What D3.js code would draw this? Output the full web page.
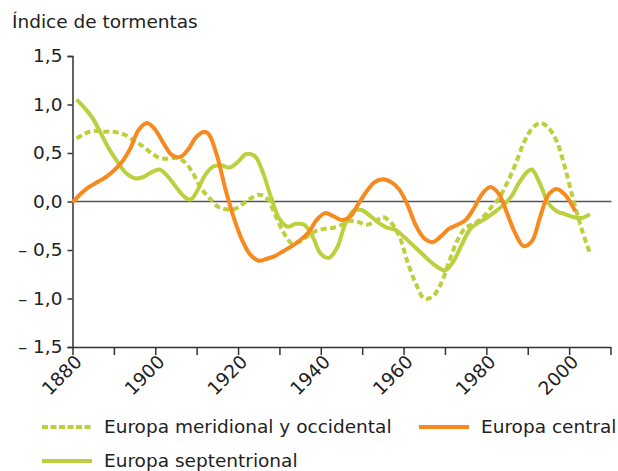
<!DOCTYPE html>
<html>
<head>
<meta charset="utf-8">
<script src="https://cdn.jsdelivr.net/npm/d3@7"></script>
<style>
    body { margin: 0; background: #fff; }
    text { font-family: 'DejaVu Sans', Verdana, sans-serif; fill: #222; }
</style>
</head>
<body>
<div id="chart-holder"></div>
<script>
// data
var seriesNames = ['Europa meridional y occidental', 'Europa central', 'Europa septentrional'];

var southYears = [1881, 1883, 1885, 1887, 1889, 1891, 1893, 1895, 1897, 1899, 1901, 1903, 1905, 1907, 1909, 1911, 1913, 1915, 1917, 1919, 1921, 1923, 1925, 1927, 1929, 1931, 1933, 1935, 1937, 1939, 1941, 1943, 1945, 1947, 1949, 1951, 1953, 1955, 1957, 1959, 1961, 1963, 1965, 1967, 1969, 1971, 1973, 1975, 1977, 1979, 1981, 1983, 1985, 1987, 1989, 1991, 1993, 1995, 1997, 1999, 2001, 2003, 2005];
var southValues = [0.65, 0.70, 0.73, 0.72, 0.72, 0.71, 0.68, 0.62, 0.57, 0.50, 0.45, 0.44, 0.45, 0.41, 0.30, 0.14, 0.04, -0.05, -0.08, -0.08, -0.03, 0.03, 0.07, 0.03, -0.14, -0.32, -0.43, -0.41, -0.35, -0.30, -0.28, -0.27, -0.24, -0.20, -0.21, -0.24, -0.21, -0.16, -0.22, -0.36, -0.63, -0.85, -1.00, -0.98, -0.85, -0.62, -0.40, -0.27, -0.23, -0.17, -0.07, 0.03, 0.19, 0.38, 0.60, 0.75, 0.81, 0.76, 0.62, 0.35, 0.02, -0.28, -0.53];

var centralYears = [1880, 1882, 1884, 1886, 1888, 1890, 1892, 1894, 1896, 1898, 1900, 1902, 1904, 1906, 1908, 1910, 1912, 1913, 1915, 1917, 1919, 1921, 1923, 1925, 1927, 1929, 1931, 1933, 1935, 1937, 1939, 1941, 1943, 1945, 1947, 1949, 1951, 1953, 1955, 1957, 1959, 1961, 1963, 1965, 1967, 1969, 1971, 1973, 1975, 1977, 1979, 1981, 1983, 1985, 1987, 1989, 1991, 1993, 1995, 1997, 1999, 2001.5];
var centralValues = [-0.01, 0.08, 0.15, 0.20, 0.25, 0.32, 0.41, 0.55, 0.74, 0.81, 0.74, 0.60, 0.48, 0.46, 0.54, 0.67, 0.72, 0.69, 0.46, 0.12, -0.17, -0.40, -0.55, -0.61, -0.59, -0.56, -0.51, -0.46, -0.40, -0.32, -0.19, -0.12, -0.15, -0.19, -0.16, -0.03, 0.10, 0.20, 0.23, 0.20, 0.12, -0.04, -0.25, -0.38, -0.42, -0.36, -0.28, -0.24, -0.19, -0.07, 0.08, 0.15, 0.08, -0.12, -0.33, -0.46, -0.41, -0.16, 0.07, 0.13, 0.07, -0.10];

var northYears = [1881, 1883, 1885, 1887, 1889, 1891, 1893, 1895, 1897, 1899, 1901, 1903, 1905, 1907, 1908.5, 1910, 1912, 1914, 1916, 1918, 1920, 1922, 1924, 1926, 1928, 1930, 1932, 1934, 1936, 1938, 1940, 1942, 1944, 1946, 1948, 1950, 1952, 1954, 1956, 1958, 1960, 1962, 1964, 1966, 1968, 1970, 1972, 1974, 1976, 1978, 1980, 1982, 1984, 1986, 1988, 1990, 1991, 1993, 1995, 1997, 1999, 2001, 2003, 2005];
var northValues = [1.05, 0.96, 0.85, 0.69, 0.53, 0.40, 0.29, 0.24, 0.25, 0.30, 0.33, 0.26, 0.15, 0.05, 0.02, 0.10, 0.27, 0.36, 0.37, 0.35, 0.41, 0.49, 0.47, 0.30, 0.04, -0.18, -0.26, -0.23, -0.24, -0.36, -0.54, -0.58, -0.47, -0.22, -0.09, -0.09, -0.15, -0.22, -0.27, -0.29, -0.36, -0.44, -0.52, -0.60, -0.67, -0.71, -0.62, -0.45, -0.29, -0.22, -0.17, -0.11, -0.04, 0.05, 0.20, 0.31, 0.33, 0.18, -0.02, -0.10, -0.13, -0.16, -0.17, -0.13];

var yTicks = [1.5, 1.0, 0.5, 0.0, -0.5, -1.0, -1.5];
var yTickLabels = ['1,5', '1,0', '0,5', '0,0', '\u2013 0,5', '\u2013 1,0', '\u2013 1,5'];
var xTicks = [1880, 1890, 1900, 1910, 1920, 1930, 1940, 1950, 1960, 1970, 1980, 1990, 2000, 2010];

function buildChart(containerId) {
    var width = 618;
    var height = 471;
    var fontSize = '18.5px';

    var green = '#bccf3c';
    var orange = '#f7891f';

    var svg = d3
        .select(containerId)
        .append('svg')
        .attr('width', width)
        .attr('height', height);

    // scales
    var x = d3.scaleLinear().domain([1880, 2010]).range([72.5, 610.5]);
    var y = d3.scaleLinear().domain([-1.5, 1.5]).range([347, 56]);

    // title
    svg.append('text')
        .attr('x', 12)
        .attr('y', 28)
        .style('font-size', fontSize)
        .text('Índice de tormentas');

    // y axis
    var yAxis = d3.axisLeft(y)
        .tickValues(yTicks)
        .tickSize(5)
        .tickPadding(5)
        .tickFormat(function(d, i) { return yTickLabels[i]; });

    var gy = svg.append('g')
        .attr('transform', 'translate(72.5,0)')
        .call(yAxis);
    gy.select('.domain').attr('stroke', '#333').attr('stroke-width', 1.5);
    gy.selectAll('.tick line').attr('stroke', '#333').attr('stroke-width', 1.5);
    gy.selectAll('.tick text').style('font-size', fontSize).attr('fill', '#222');

    // x axis
    var xAxis = d3.axisBottom(x)
        .tickValues(xTicks)
        .tickSize(8)
        .tickSizeOuter(0)
        .tickFormat(function(d) { return (d - 1880) % 20 === 0 ? d : ''; });

    var gx = svg.append('g')
        .attr('transform', 'translate(0,347)')
        .call(xAxis);
    gx.select('.domain').attr('stroke', '#333').attr('stroke-width', 1.5);
    gx.selectAll('.tick line').attr('stroke', '#333').attr('stroke-width', 1.5);
    gx.selectAll('.tick text')
        .style('font-size', fontSize)
        .attr('fill', '#222')
        .attr('text-anchor', 'end')
        .attr('dy', null)
        .attr('y', 0)
        .attr('transform', 'translate(10,16) rotate(-45)');

    // zero line
    svg.append('line')
        .attr('x1', x(1880))
        .attr('x2', x(2010) + 1)
        .attr('y1', y(0))
        .attr('y2', y(0))
        .attr('stroke', '#555')
        .attr('stroke-width', 1.5);

    var line = d3.line()
        .x(function(d) { return x(d[0]); })
        .y(function(d) { return y(d[1]); })
        .curve(d3.curveCatmullRom);

    function pairs(years, values) {
        return years.map(function(yr, i) { return [yr, values[i]]; });
    }

    var series = [
        { data: pairs(southYears, southValues), color: green, dash: '6,3.5' },
        { data: pairs(northYears, northValues), color: green, dash: null },
        { data: pairs(centralYears, centralValues), color: orange, dash: null }
    ];

    svg.selectAll('.series')
        .data(series)
        .enter()
        .append('path')
        .attr('class', 'series')
        .attr('d', function(d) { return line(d.data); })
        .attr('fill', 'none')
        .attr('stroke', function(d) { return d.color; })
        .attr('stroke-width', 4)
        .attr('stroke-dasharray', function(d) { return d.dash; })
        .attr('stroke-linejoin', 'round');

    // legend
    var legend = [
        { name: seriesNames[0], color: green, dash: '6,2.5', x: 42, y: 427 },
        { name: seriesNames[1], color: orange, dash: null, x: 419, y: 427 },
        { name: seriesNames[2], color: green, dash: null, x: 42, y: 461 }
    ];

    var lg = svg.selectAll('.legend')
        .data(legend)
        .enter()
        .append('g')
        .attr('class', 'legend')
        .attr('transform', function(d) { return 'translate(' + d.x + ',' + d.y + ')'; });

    lg.append('line')
        .attr('x1', 0)
        .attr('x2', 50)
        .attr('stroke', function(d) { return d.color; })
        .attr('stroke-width', 4)
        .attr('stroke-dasharray', function(d) { return d.dash; });

    lg.append('text')
        .attr('x', 62)
        .attr('dy', '0.35em')
        .style('font-size', fontSize)
        .text(function(d) { return d.name; });
}

buildChart('#chart-holder');
</script>
</body>
</html>
